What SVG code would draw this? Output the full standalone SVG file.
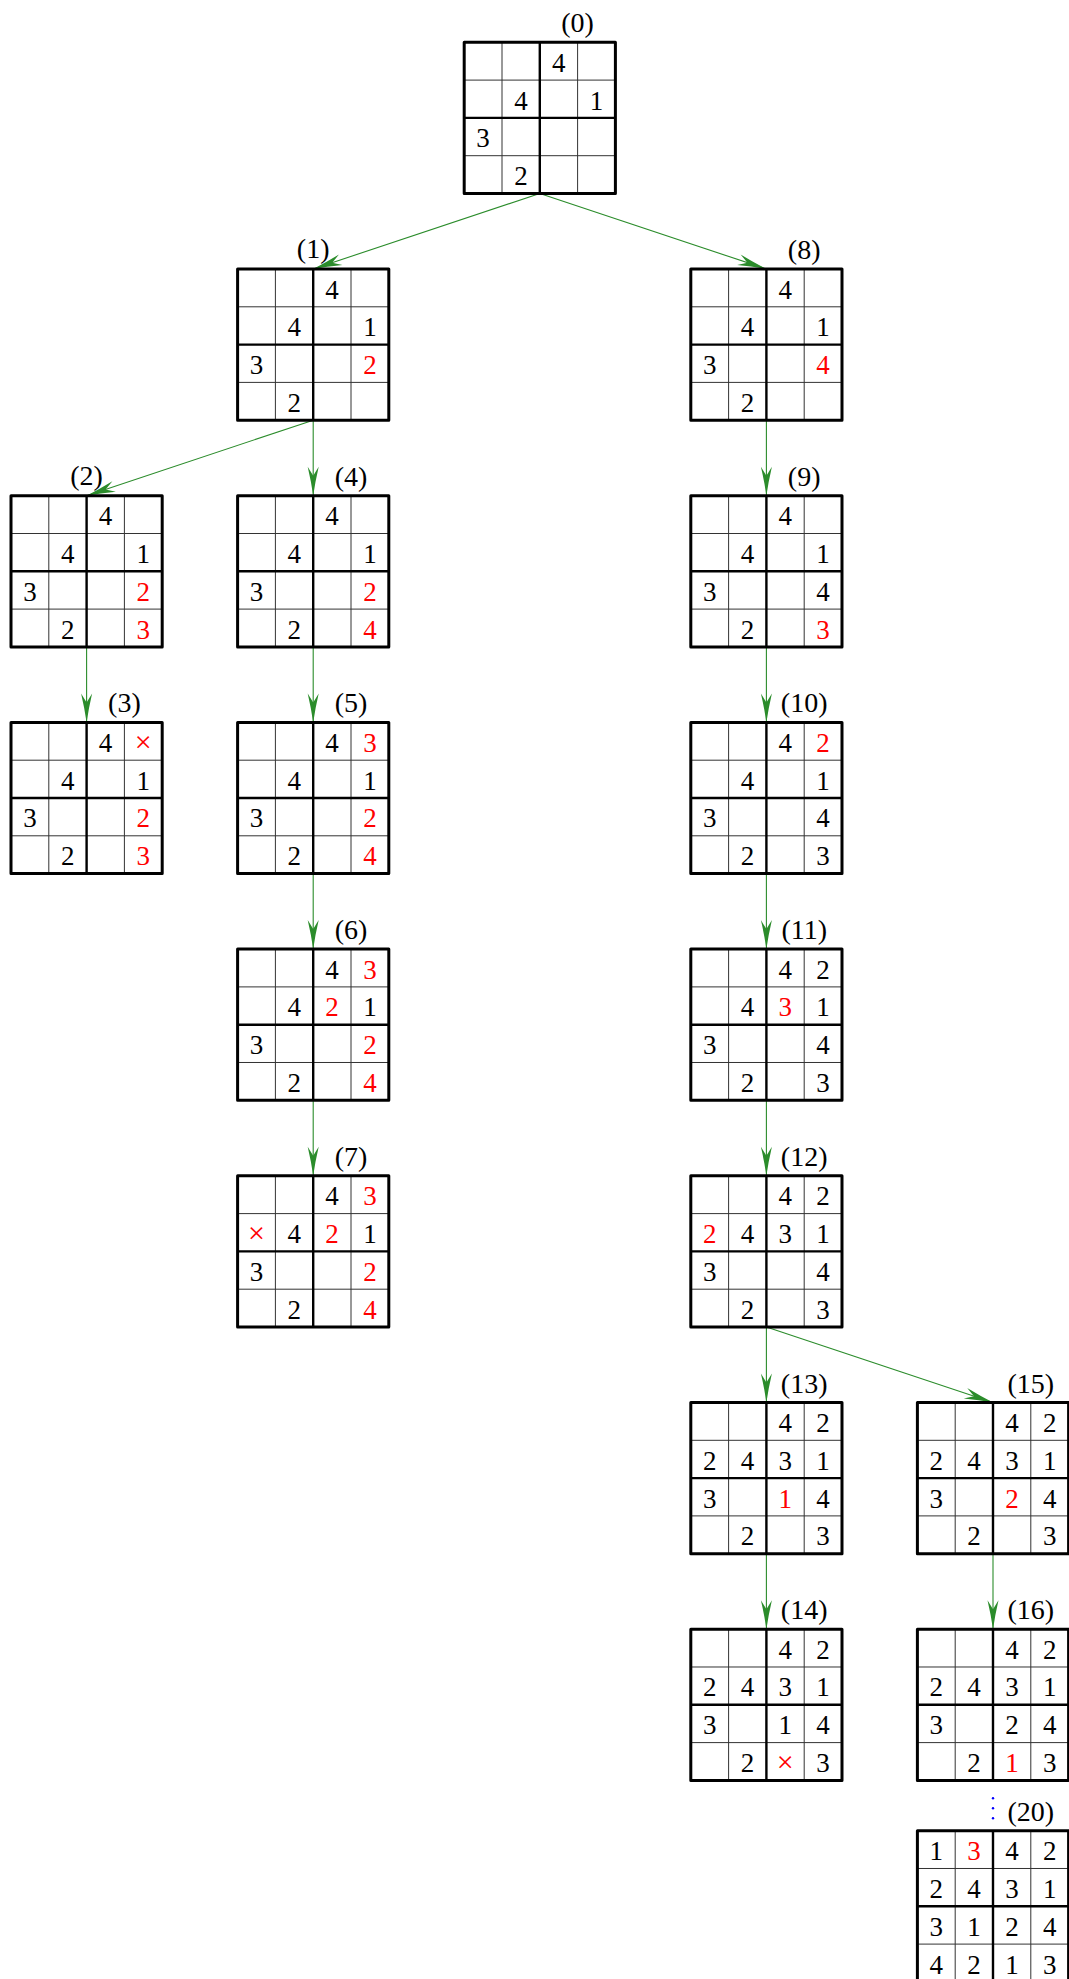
<svg xmlns="http://www.w3.org/2000/svg" xmlns:xlink="http://www.w3.org/1999/xlink" width="1069" height="1979" viewBox="0 0 1069 1979">
<style>
.d{font-family:"Liberation Serif",serif;font-size:27px;text-anchor:middle;fill:#000}
.r{fill:#ff0000}
.x{font-size:30px}
.lb{font-family:"Liberation Serif",serif;font-size:28px;text-anchor:middle;fill:#000}
.thin{stroke:#333;stroke-width:1;fill:none}
.mid{stroke:#000;stroke-width:2.4;fill:none}
.out{stroke:#000;stroke-width:3;fill:none;stroke-linejoin:round}
.e{stroke:#2b8c2b;stroke-width:1.1;fill:none;marker-end:url(#ah)}
</style>
<defs>
<marker id="ah" viewBox="-31 -7 33 14" refX="0" refY="0" markerWidth="33" markerHeight="14" markerUnits="userSpaceOnUse" orient="auto">
<path d="M0,0 Q-14,-2 -29,-5.5 L-20,0 L-29,5.5 Q-14,2 0,0 Z" fill="#2b8c2b"/>
</marker>
<g id="grid">
<path class="thin" d="M37.8,0V151.2M113.4,0V151.2M0,37.8H151.2M0,113.4H151.2"/>
<path class="mid" d="M75.6,0V151.2M0,75.6H151.2"/>
<rect class="out" x="0" y="0" width="151.2" height="151.2"/>
</g>
</defs>
<rect width="1069" height="1979" fill="#fff"/>
<g id="connectors">
<path class="e" d="M539.8,193.5L313.2,269"/>
<path class="e" d="M539.8,193.5L766.4,269"/>
<path class="e" d="M313.2,420.2L86.6,495.7"/>
<path class="e" d="M313.2,420.2V495.7"/>
<path class="e" d="M86.6,646.9V722.4"/>
<path class="e" d="M313.2,646.9V722.4"/>
<path class="e" d="M313.2,873.6V949.1"/>
<path class="e" d="M313.2,1100.3V1175.8"/>
<path class="e" d="M766.4,420.2V495.7"/>
<path class="e" d="M766.4,646.9V722.4"/>
<path class="e" d="M766.4,873.6V949.1"/>
<path class="e" d="M766.4,1100.3V1175.8"/>
<path class="e" d="M766.4,1327V1402.5"/>
<path class="e" d="M766.4,1327L993,1402.5"/>
<path class="e" d="M766.4,1553.7V1629.2"/>
<path class="e" d="M993,1553.7V1629.2"/>
</g>
<g id="n0" transform="translate(464.2,42.3)"><use xlink:href="#grid"/>
<text class="lb" x="113.4" y="-10">(0)</text>
<text class="d" x="94.5" y="29.5">4</text><text class="d" x="56.7" y="67.3">4</text><text class="d" x="132.3" y="67.3">1</text><text class="d" x="18.9" y="105.1">3</text><text class="d" x="56.7" y="142.9">2</text>
</g>
<g id="n1" transform="translate(237.6,269)"><use xlink:href="#grid"/>
<text class="lb" x="75.6" y="-11">(1)</text>
<text class="d" x="94.5" y="29.5">4</text><text class="d" x="56.7" y="67.3">4</text><text class="d" x="132.3" y="67.3">1</text><text class="d" x="18.9" y="105.1">3</text><text class="d" x="56.7" y="142.9">2</text>
<text class="d r" x="132.3" y="105.1">2</text>
</g>
<g id="n8" transform="translate(690.8,269)"><use xlink:href="#grid"/>
<text class="lb" x="113.4" y="-10">(8)</text>
<text class="d" x="94.5" y="29.5">4</text><text class="d" x="56.7" y="67.3">4</text><text class="d" x="132.3" y="67.3">1</text><text class="d" x="18.9" y="105.1">3</text><text class="d" x="56.7" y="142.9">2</text>
<text class="d r" x="132.3" y="105.1">4</text>
</g>
<g id="n2" transform="translate(11,495.7)"><use xlink:href="#grid"/>
<text class="lb" x="75.6" y="-11">(2)</text>
<text class="d" x="94.5" y="29.5">4</text><text class="d" x="56.7" y="67.3">4</text><text class="d" x="132.3" y="67.3">1</text><text class="d" x="18.9" y="105.1">3</text><text class="d" x="56.7" y="142.9">2</text>
<text class="d r" x="132.3" y="105.1">2</text><text class="d r" x="132.3" y="142.9">3</text>
</g>
<g id="n4" transform="translate(237.6,495.7)"><use xlink:href="#grid"/>
<text class="lb" x="113.4" y="-10">(4)</text>
<text class="d" x="94.5" y="29.5">4</text><text class="d" x="56.7" y="67.3">4</text><text class="d" x="132.3" y="67.3">1</text><text class="d" x="18.9" y="105.1">3</text><text class="d" x="56.7" y="142.9">2</text>
<text class="d r" x="132.3" y="105.1">2</text><text class="d r" x="132.3" y="142.9">4</text>
</g>
<g id="n9" transform="translate(690.8,495.7)"><use xlink:href="#grid"/>
<text class="lb" x="113.4" y="-10">(9)</text>
<text class="d" x="94.5" y="29.5">4</text><text class="d" x="56.7" y="67.3">4</text><text class="d" x="132.3" y="67.3">1</text><text class="d" x="18.9" y="105.1">3</text><text class="d" x="56.7" y="142.9">2</text>
<text class="d" x="132.3" y="105.1">4</text><text class="d r" x="132.3" y="142.9">3</text>
</g>
<g id="n3" transform="translate(11,722.4)"><use xlink:href="#grid"/>
<text class="lb" x="113.4" y="-10">(3)</text>
<text class="d" x="94.5" y="29.5">4</text><text class="d" x="56.7" y="67.3">4</text><text class="d" x="132.3" y="67.3">1</text><text class="d" x="18.9" y="105.1">3</text><text class="d" x="56.7" y="142.9">2</text>
<text class="d r x" x="132.3" y="29.5">×</text><text class="d r" x="132.3" y="105.1">2</text><text class="d r" x="132.3" y="142.9">3</text>
</g>
<g id="n5" transform="translate(237.6,722.4)"><use xlink:href="#grid"/>
<text class="lb" x="113.4" y="-10">(5)</text>
<text class="d" x="94.5" y="29.5">4</text><text class="d" x="56.7" y="67.3">4</text><text class="d" x="132.3" y="67.3">1</text><text class="d" x="18.9" y="105.1">3</text><text class="d" x="56.7" y="142.9">2</text>
<text class="d r" x="132.3" y="29.5">3</text><text class="d r" x="132.3" y="105.1">2</text><text class="d r" x="132.3" y="142.9">4</text>
</g>
<g id="n10" transform="translate(690.8,722.4)"><use xlink:href="#grid"/>
<text class="lb" x="113.4" y="-10">(10)</text>
<text class="d" x="94.5" y="29.5">4</text><text class="d" x="56.7" y="67.3">4</text><text class="d" x="132.3" y="67.3">1</text><text class="d" x="18.9" y="105.1">3</text><text class="d" x="56.7" y="142.9">2</text>
<text class="d r" x="132.3" y="29.5">2</text><text class="d" x="132.3" y="105.1">4</text><text class="d" x="132.3" y="142.9">3</text>
</g>
<g id="n6" transform="translate(237.6,949.1)"><use xlink:href="#grid"/>
<text class="lb" x="113.4" y="-10">(6)</text>
<text class="d" x="94.5" y="29.5">4</text><text class="d" x="56.7" y="67.3">4</text><text class="d" x="132.3" y="67.3">1</text><text class="d" x="18.9" y="105.1">3</text><text class="d" x="56.7" y="142.9">2</text>
<text class="d r" x="132.3" y="29.5">3</text><text class="d r" x="94.5" y="67.3">2</text><text class="d r" x="132.3" y="105.1">2</text><text class="d r" x="132.3" y="142.9">4</text>
</g>
<g id="n11" transform="translate(690.8,949.1)"><use xlink:href="#grid"/>
<text class="lb" x="113.4" y="-10">(11)</text>
<text class="d" x="94.5" y="29.5">4</text><text class="d" x="56.7" y="67.3">4</text><text class="d" x="132.3" y="67.3">1</text><text class="d" x="18.9" y="105.1">3</text><text class="d" x="56.7" y="142.9">2</text>
<text class="d" x="132.3" y="29.5">2</text><text class="d r" x="94.5" y="67.3">3</text><text class="d" x="132.3" y="105.1">4</text><text class="d" x="132.3" y="142.9">3</text>
</g>
<g id="n7" transform="translate(237.6,1175.8)"><use xlink:href="#grid"/>
<text class="lb" x="113.4" y="-10">(7)</text>
<text class="d" x="94.5" y="29.5">4</text><text class="d" x="56.7" y="67.3">4</text><text class="d" x="132.3" y="67.3">1</text><text class="d" x="18.9" y="105.1">3</text><text class="d" x="56.7" y="142.9">2</text>
<text class="d r" x="132.3" y="29.5">3</text><text class="d r x" x="18.9" y="67.3">×</text><text class="d r" x="94.5" y="67.3">2</text><text class="d r" x="132.3" y="105.1">2</text><text class="d r" x="132.3" y="142.9">4</text>
</g>
<g id="n12" transform="translate(690.8,1175.8)"><use xlink:href="#grid"/>
<text class="lb" x="113.4" y="-10">(12)</text>
<text class="d" x="94.5" y="29.5">4</text><text class="d" x="56.7" y="67.3">4</text><text class="d" x="132.3" y="67.3">1</text><text class="d" x="18.9" y="105.1">3</text><text class="d" x="56.7" y="142.9">2</text>
<text class="d" x="132.3" y="29.5">2</text><text class="d r" x="18.9" y="67.3">2</text><text class="d" x="94.5" y="67.3">3</text><text class="d" x="132.3" y="105.1">4</text><text class="d" x="132.3" y="142.9">3</text>
</g>
<g id="n13" transform="translate(690.8,1402.5)"><use xlink:href="#grid"/>
<text class="lb" x="113.4" y="-10">(13)</text>
<text class="d" x="94.5" y="29.5">4</text><text class="d" x="56.7" y="67.3">4</text><text class="d" x="132.3" y="67.3">1</text><text class="d" x="18.9" y="105.1">3</text><text class="d" x="56.7" y="142.9">2</text>
<text class="d" x="132.3" y="29.5">2</text><text class="d" x="18.9" y="67.3">2</text><text class="d" x="94.5" y="67.3">3</text><text class="d" x="132.3" y="105.1">4</text><text class="d" x="132.3" y="142.9">3</text>
<text class="d r" x="94.5" y="105.1">1</text>
</g>
<g id="n15" transform="translate(917.4,1402.5)"><use xlink:href="#grid"/>
<text class="lb" x="113.4" y="-10">(15)</text>
<text class="d" x="94.5" y="29.5">4</text><text class="d" x="56.7" y="67.3">4</text><text class="d" x="132.3" y="67.3">1</text><text class="d" x="18.9" y="105.1">3</text><text class="d" x="56.7" y="142.9">2</text>
<text class="d" x="132.3" y="29.5">2</text><text class="d" x="18.9" y="67.3">2</text><text class="d" x="94.5" y="67.3">3</text><text class="d" x="132.3" y="105.1">4</text><text class="d" x="132.3" y="142.9">3</text>
<text class="d r" x="94.5" y="105.1">2</text>
</g>
<g id="n14" transform="translate(690.8,1629.2)"><use xlink:href="#grid"/>
<text class="lb" x="113.4" y="-10">(14)</text>
<text class="d" x="94.5" y="29.5">4</text><text class="d" x="56.7" y="67.3">4</text><text class="d" x="132.3" y="67.3">1</text><text class="d" x="18.9" y="105.1">3</text><text class="d" x="56.7" y="142.9">2</text>
<text class="d" x="132.3" y="29.5">2</text><text class="d" x="18.9" y="67.3">2</text><text class="d" x="94.5" y="67.3">3</text><text class="d" x="132.3" y="105.1">4</text><text class="d" x="132.3" y="142.9">3</text>
<text class="d" x="94.5" y="105.1">1</text><text class="d r x" x="94.5" y="142.9">×</text>
</g>
<g id="n16" transform="translate(917.4,1629.2)"><use xlink:href="#grid"/>
<text class="lb" x="113.4" y="-10">(16)</text>
<text class="d" x="94.5" y="29.5">4</text><text class="d" x="56.7" y="67.3">4</text><text class="d" x="132.3" y="67.3">1</text><text class="d" x="18.9" y="105.1">3</text><text class="d" x="56.7" y="142.9">2</text>
<text class="d" x="132.3" y="29.5">2</text><text class="d" x="18.9" y="67.3">2</text><text class="d" x="94.5" y="67.3">3</text><text class="d" x="132.3" y="105.1">4</text><text class="d" x="132.3" y="142.9">3</text>
<text class="d" x="94.5" y="105.1">2</text><text class="d r" x="94.5" y="142.9">1</text>
</g>
<g id="vdots" fill="#0000ff"><circle cx="993" cy="1798.3" r="1.2"/><circle cx="993" cy="1808.2" r="1.2"/><circle cx="993" cy="1818.2" r="1.2"/></g>
<g id="n20" transform="translate(917.4,1830.7)"><use xlink:href="#grid"/>
<text class="lb" x="113.4" y="-10">(20)</text>
<text class="d" x="18.9" y="29.5">1</text><text class="d r" x="56.7" y="29.5">3</text><text class="d" x="94.5" y="29.5">4</text><text class="d" x="132.3" y="29.5">2</text>
<text class="d" x="18.9" y="67.3">2</text><text class="d" x="56.7" y="67.3">4</text><text class="d" x="94.5" y="67.3">3</text><text class="d" x="132.3" y="67.3">1</text>
<text class="d" x="18.9" y="105.1">3</text><text class="d" x="56.7" y="105.1">1</text><text class="d" x="94.5" y="105.1">2</text><text class="d" x="132.3" y="105.1">4</text>
<text class="d" x="18.9" y="142.9">4</text><text class="d" x="56.7" y="142.9">2</text><text class="d" x="94.5" y="142.9">1</text><text class="d" x="132.3" y="142.9">3</text>
</g>
</svg>
